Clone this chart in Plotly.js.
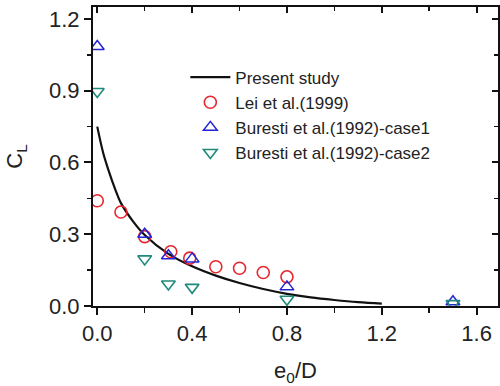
<!DOCTYPE html>
<html>
<head>
<meta charset="utf-8">
<script src="https://cdn.plot.ly/plotly-3.0.1.min.js"></script>
<style>html,body{margin:0;padding:0;background:#fff;}#chart{width:500px;height:386px;}</style>
</head>
<body>
<div id="chart"></div>
<script>
// Present study (curve)
const presentX = [0, 0.025, 0.05, 0.075, 0.1, 0.15, 0.2, 0.3, 0.4, 0.5, 0.6, 0.7, 0.8, 0.9, 1.0, 1.1, 1.2];
const presentY = [0.75, 0.64, 0.56, 0.49, 0.43, 0.355, 0.297, 0.218, 0.166, 0.127, 0.096, 0.071, 0.051, 0.036, 0.025, 0.016, 0.01];
// Lei et al.(1999)
const leiX = [0, 0.1, 0.2, 0.31, 0.39, 0.5, 0.6, 0.7, 0.8];
const leiY = [0.44, 0.393, 0.29, 0.227, 0.2, 0.164, 0.158, 0.14, 0.122];
// Buresti et al.(1992)-case1
const case1X = [0, 0.2, 0.3, 0.4, 0.8, 1.5];
const case1Y = [1.085, 0.3, 0.21, 0.197, 0.08, 0.018];
// Buresti et al.(1992)-case2
const case2X = [0, 0.2, 0.3, 0.4, 0.8, 1.5];
const case2Y = [0.897, 0.197, 0.092, 0.078, 0.028, 0.01];

const names = ['Present study', 'Lei et al.(1999)', 'Buresti et al.(1992)-case1', 'Buresti et al.(1992)-case2'];

const FONT = 'Liberation Sans, Arial, sans-serif';
const traces = [
  {x: presentX, y: presentY, name: names[0], type: 'scatter', mode: 'lines',
   line: {color: '#111111', width: 2.2, shape: 'spline'}},
  {x: leiX, y: leiY, name: names[1], type: 'scatter', mode: 'markers',
   marker: {symbol: 'circle-open', size: 12, color: '#e8262e', line: {width: 1.6, color: '#e8262e'}}},
  {x: case1X, y: case1Y, name: names[2], type: 'scatter', mode: 'markers',
   marker: {symbol: 'triangle-up-open', size: 12, color: '#2424d4', line: {width: 1.5, color: '#2424d4'}}},
  {x: case2X, y: case2Y, name: names[3], type: 'scatter', mode: 'markers',
   marker: {symbol: 'triangle-down-open', size: 12, color: '#1f8a7a', line: {width: 1.6, color: '#1f8a7a'}}},
  {x: [], y: [], xaxis: 'x2', yaxis: 'y2', showlegend: false, hoverinfo: 'skip', type: 'scatter', mode: 'markers'}
];

const xr = [-0.018, 1.69], yr = [0, 1.25];
const layout = {
  width: 500, height: 386,
  margin: {l: 93, r: 2, t: 7, b: 80},
  paper_bgcolor: '#fff', plot_bgcolor: '#fff',
  font: {family: FONT, color: '#222'},
  showlegend: true,
  legend: {x: 0.228, y: 0.824, xanchor: 'left', yanchor: 'top', bgcolor: 'rgba(0,0,0,0)',
           font: {size: 17, family: FONT, color: '#222'}, tracegroupgap: 0, itemwidth: 40},
  xaxis: {range: xr, dtick: 0.4, tick0: 0, ticks: 'outside', ticklen: 7, tickwidth: 2, tickcolor: '#111',
          showline: true, linecolor: '#111', linewidth: 2, showgrid: false, zeroline: false,
          tickfont: {size: 22, family: FONT, color: '#222'}, tickformat: '.1f',
          minor: {dtick: 0.2, tick0: 0, ticks: 'outside', ticklen: 5, tickwidth: 1.5, tickcolor: '#111', showgrid: false},
          title: {text: 'e<sub>0</sub>/D', font: {size: 22, family: FONT, color: '#222'}, standoff: 18}},
  yaxis: {range: yr, dtick: 0.3, tick0: 0, ticks: 'outside', ticklen: 7, tickwidth: 2, tickcolor: '#111',
          showline: true, linecolor: '#111', linewidth: 2, showgrid: false, zeroline: false,
          tickfont: {size: 22, family: FONT, color: '#222'}, tickformat: '.1f',
          minor: {dtick: 0.15, tick0: 0, ticks: 'outside', ticklen: 4, tickwidth: 1.5, tickcolor: '#111', showgrid: false},
          title: {text: 'C<sub>L</sub>', font: {size: 22, family: FONT, color: '#222'}, standoff: 20}},
  xaxis2: {range: xr, overlaying: 'x', side: 'top', dtick: 0.4, tick0: 0, ticks: 'inside', ticklen: 6, tickwidth: 2,
           tickcolor: '#111', showline: true, linecolor: '#111', linewidth: 2, showgrid: false, zeroline: false,
           showticklabels: false, minor: {dtick: 0.2, tick0: 0, ticks: 'inside', ticklen: 4, tickwidth: 1.5, tickcolor: '#111'}},
  yaxis2: {range: yr, overlaying: 'y', side: 'right', dtick: 0.3, tick0: 0, ticks: 'inside', ticklen: 6, tickwidth: 2,
           tickcolor: '#111', showline: true, linecolor: '#111', linewidth: 2, showgrid: false, zeroline: false,
           showticklabels: false, minor: {dtick: 0.15, tick0: 0, ticks: 'inside', ticklen: 4, tickwidth: 1.5, tickcolor: '#111'}}
};

Plotly.newPlot('chart', traces, layout, {displayModeBar: false, staticPlot: true});
</script>
</body>
</html>
